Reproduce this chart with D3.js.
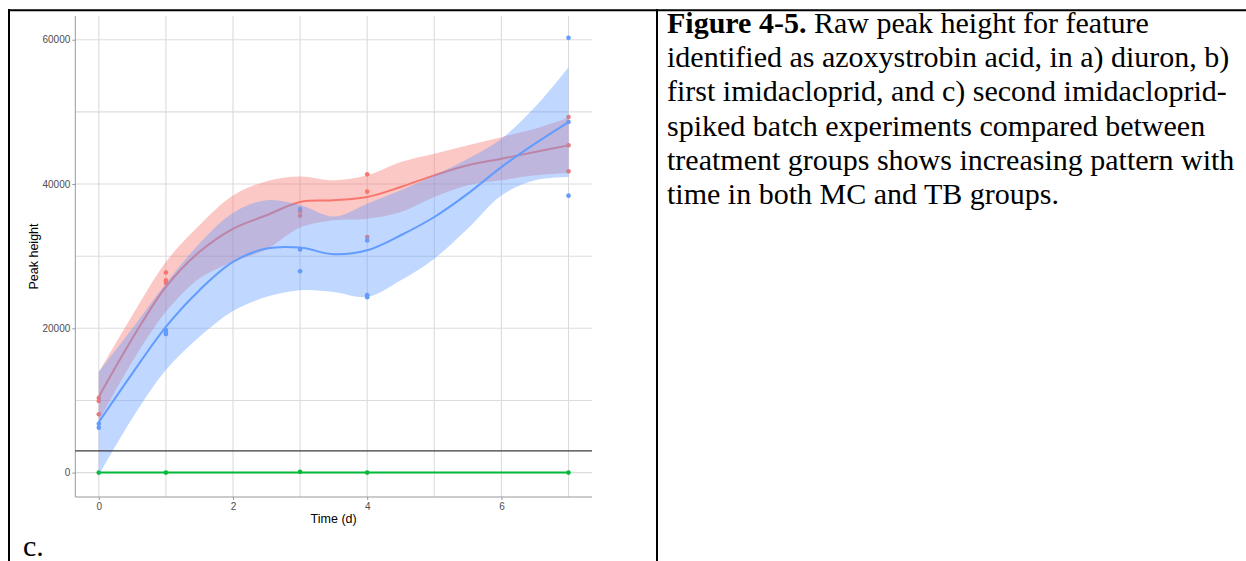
<!DOCTYPE html>
<html><head><meta charset="utf-8">
<script src="https://cdn.jsdelivr.net/npm/d3@7/dist/d3.min.js"></script>
<style>body{margin:0;background:#fff;overflow:hidden}</style>
</head><body>
<svg id="c" width="1246" height="561"></svg>
<script>
// ---------- data ----------
const xMajorTicks = [0, 2, 4, 6];
const xMinorTicks = [1, 3, 5, 7];
const yMajorTicks = [0, 20000, 40000, 60000];
const yMinorTicks = [10000, 30000, 50000];
const hlineValue = 3000;

// observed points (time in days, peak height)
const redTime   = [0, 0, 0, 1, 1, 1, 3, 3, 4, 4, 4, 7, 7, 7];
const redValue  = [10340, 9920, 8080, 27740, 26670, 26300, 36220, 35620, 41340, 38950, 32660, 49280, 45360, 41760];
const blueTime  = [0, 0, 1, 1, 1, 3, 3, 3, 4, 4, 4, 7, 7, 7];
const blueValue = [6780, 6230, 19750, 19430, 19200, 36540, 30920, 27920, 32170, 24600, 24320, 60260, 48590, 38390];
const greenTime  = [0, 1, 3, 4, 7];
const greenValue = [0, 0, 120, 0, 0];

// smoothed fits
const smoothTime = [0, 0.5, 1, 1.5, 2, 2.5, 3, 3.5, 4, 4.5, 5, 5.5, 6, 6.5, 7];
const redFit   = [10520, 18600, 25750, 30600, 33800, 35670, 37510, 37740, 38200, 39590, 41200, 42590, 43510, 44430, 45360];
const redUpper = [13890, 21800, 29200, 34280, 38400, 40400, 41060, 40510, 41200, 43050, 44200, 45360, 46500, 47660, 49190];
const redLower = [7150, 15400, 22300, 26920, 29200, 30940, 33960, 34970, 35200, 36130, 38200, 39820, 40520, 41200, 41530];
const blueFit   = [7000, 13760, 20210, 25290, 29200, 31060, 31190, 30270, 30820, 32900, 35430, 38670, 42350, 45590, 48590];
const blueUpper = [14000, 19990, 26210, 31760, 36000, 37760, 37090, 35490, 37280, 39130, 41200, 43510, 46280, 50660, 56200];
const blueLower = [-350, 7530, 14210, 18820, 22400, 24360, 25290, 25050, 24360, 26670, 29660, 33830, 38420, 40520, 40980];
const greenFit = [0, 0, 0, 0, 0, 0, 0, 0, 0, 0, 0, 0, 0, 0, 0];

const xLabel = "Time (d)";
const yLabel = "Peak height";
const panelTag = "c.";
const captionBold = "Figure 4-5.";
const captionLines = [
  " Raw peak height for feature",
  "identified as azoxystrobin acid, in a) diuron, b)",
  "first imidacloprid, and c) second imidacloprid-",
  "spiked batch experiments compared between",
  "treatment groups shows increasing pattern with",
  "time in both MC and TB groups."
];

// ---------- drawing ----------
const COL = {red: "#F8766D", green: "#00BA38", blue: "#619CFF"};
const svg = d3.select("#c");
svg.append("rect").attr("width", 1246).attr("height", 561).attr("fill", "#fff");

const P = {left: 75.3, right: 592, top: 16, bottom: 497};
const allY = [].concat(redValue, blueValue, greenValue, redUpper, redLower, blueUpper, blueLower);
const yMin = d3.min(allY), yMax = d3.max(allY), yr = yMax - yMin;
const x = d3.scaleLinear().domain([-0.35, 7.35]).range([P.left, P.right]);
const y = d3.scaleLinear().domain([yMin - 0.05 * yr, yMax + 0.05 * yr]).range([P.bottom, P.top]);

const g = svg.append("g");
// grid
const gridCol = "#dcdcdc";
g.selectAll(".gx").data(xMinorTicks.concat(xMajorTicks)).enter().append("line")
  .attr("x1", d => x(d)).attr("x2", d => x(d)).attr("y1", P.top).attr("y2", P.bottom)
  .attr("stroke", gridCol).attr("stroke-width", 1.1);
g.selectAll(".gy").data(yMinorTicks.concat(yMajorTicks)).enter().append("line")
  .attr("x1", P.left).attr("x2", P.right).attr("y1", d => y(d)).attr("y2", d => y(d))
  .attr("stroke", gridCol).attr("stroke-width", 1.1);

// axes
const xAxis = d3.axisBottom(x).tickValues(xMajorTicks).tickSize(3).tickPadding(3).tickFormat(d3.format("d"));
const yAxis = d3.axisLeft(y).tickValues(yMajorTicks).tickSize(3).tickPadding(2).tickFormat(d3.format("d"));
const gx = g.append("g").attr("transform", `translate(0,${P.bottom})`).call(xAxis);
const gy = g.append("g").attr("transform", `translate(${P.left},0)`).call(yAxis);
[gx, gy].forEach(a => {
  a.select(".domain").remove();
  a.selectAll(".tick line").attr("stroke", "#999").attr("stroke-width", 1);
  a.selectAll(".tick text").attr("fill", "#4d4d4d").attr("font-family", "'Liberation Sans', Arial, sans-serif").attr("font-size", 10);
});
g.append("line").attr("x1", P.left).attr("x2", P.left).attr("y1", P.top).attr("y2", P.bottom).attr("stroke", "#999").attr("stroke-width", 1);
g.append("line").attr("x1", P.left).attr("x2", P.right).attr("y1", P.bottom).attr("y2", P.bottom).attr("stroke", "#999").attr("stroke-width", 1);

// points
function pts(tArr, vArr, col) {
  g.append("g").selectAll("circle").data(tArr.map((t, i) => [t, vArr[i]])).enter().append("circle")
    .attr("cx", d => x(d[0])).attr("cy", d => y(d[1])).attr("r", 2.3).attr("fill", col);
}
pts(redTime, redValue, COL.red);
pts(greenTime, greenValue, COL.green);
pts(blueTime, blueValue, COL.blue);

// smooths
const area = d3.area().x(d => x(d.t)).y0(d => y(d.lo)).y1(d => y(d.hi)).curve(d3.curveCatmullRom);
const line = d3.line().x(d => x(d.t)).y(d => y(d.v)).curve(d3.curveCatmullRom);
function smooth(fit, lo, hi, col) {
  if (lo) {
    g.append("path").datum(smoothTime.map((t, i) => ({t, lo: lo[i], hi: hi[i]})))
      .attr("d", area).attr("fill", col).attr("fill-opacity", 0.4);
  }
  g.append("path").datum(smoothTime.map((t, i) => ({t, v: fit[i]})))
    .attr("d", line).attr("fill", "none").attr("stroke", col).attr("stroke-width", 2);
}
smooth(redFit, redLower, redUpper, COL.red);
smooth(greenFit, null, null, COL.green);
smooth(blueFit, blueLower, blueUpper, COL.blue);

// horizontal reference line
g.append("line").attr("x1", P.left).attr("x2", P.right).attr("y1", y(hlineValue)).attr("y2", y(hlineValue))
  .attr("stroke", "#3a3a3a").attr("stroke-width", 1.2);

// axis titles
g.append("text").attr("x", (P.left + P.right) / 2).attr("y", 523).attr("text-anchor", "middle")
  .attr("font-family", "'Liberation Sans', Arial, sans-serif").attr("font-size", 12.5).attr("fill", "#000").text(xLabel);
g.append("text").attr("transform", `translate(38,${(P.top + P.bottom) / 2}) rotate(-90)`).attr("text-anchor", "middle")
  .attr("font-family", "'Liberation Sans', Arial, sans-serif").attr("font-size", 12.5).attr("fill", "#000").text(yLabel);

// table borders
svg.append("line").attr("x1", 8).attr("x2", 1246).attr("y1", 10.2).attr("y2", 10.2).attr("stroke", "#000").attr("stroke-width", 2);
svg.append("line").attr("x1", 9).attr("x2", 9).attr("y1", 9).attr("y2", 561).attr("stroke", "#000").attr("stroke-width", 2);
svg.append("line").attr("x1", 657).attr("x2", 657).attr("y1", 9).attr("y2", 561).attr("stroke", "#000").attr("stroke-width", 2);

// panel tag
svg.append("text").attr("x", 23).attr("y", 556).attr("font-family", "'Liberation Serif', 'Times New Roman', serif")
  .attr("font-size", 30).attr("fill", "#000").text(panelTag);

// caption
const cap = svg.append("text").attr("font-family", "'Liberation Serif', 'Times New Roman', serif").attr("font-size", 30).attr("fill", "#000");
captionLines.forEach((ln, i) => {
  const t = cap.append("tspan").attr("x", 667).attr("y", 33 + i * 34.2);
  if (i === 0) {
    t.append("tspan").attr("font-weight", "bold").text(captionBold);
    cap.append("tspan").text(ln).style("white-space", "pre");
  } else {
    t.text(ln);
  }
});
</script>
</body></html>
